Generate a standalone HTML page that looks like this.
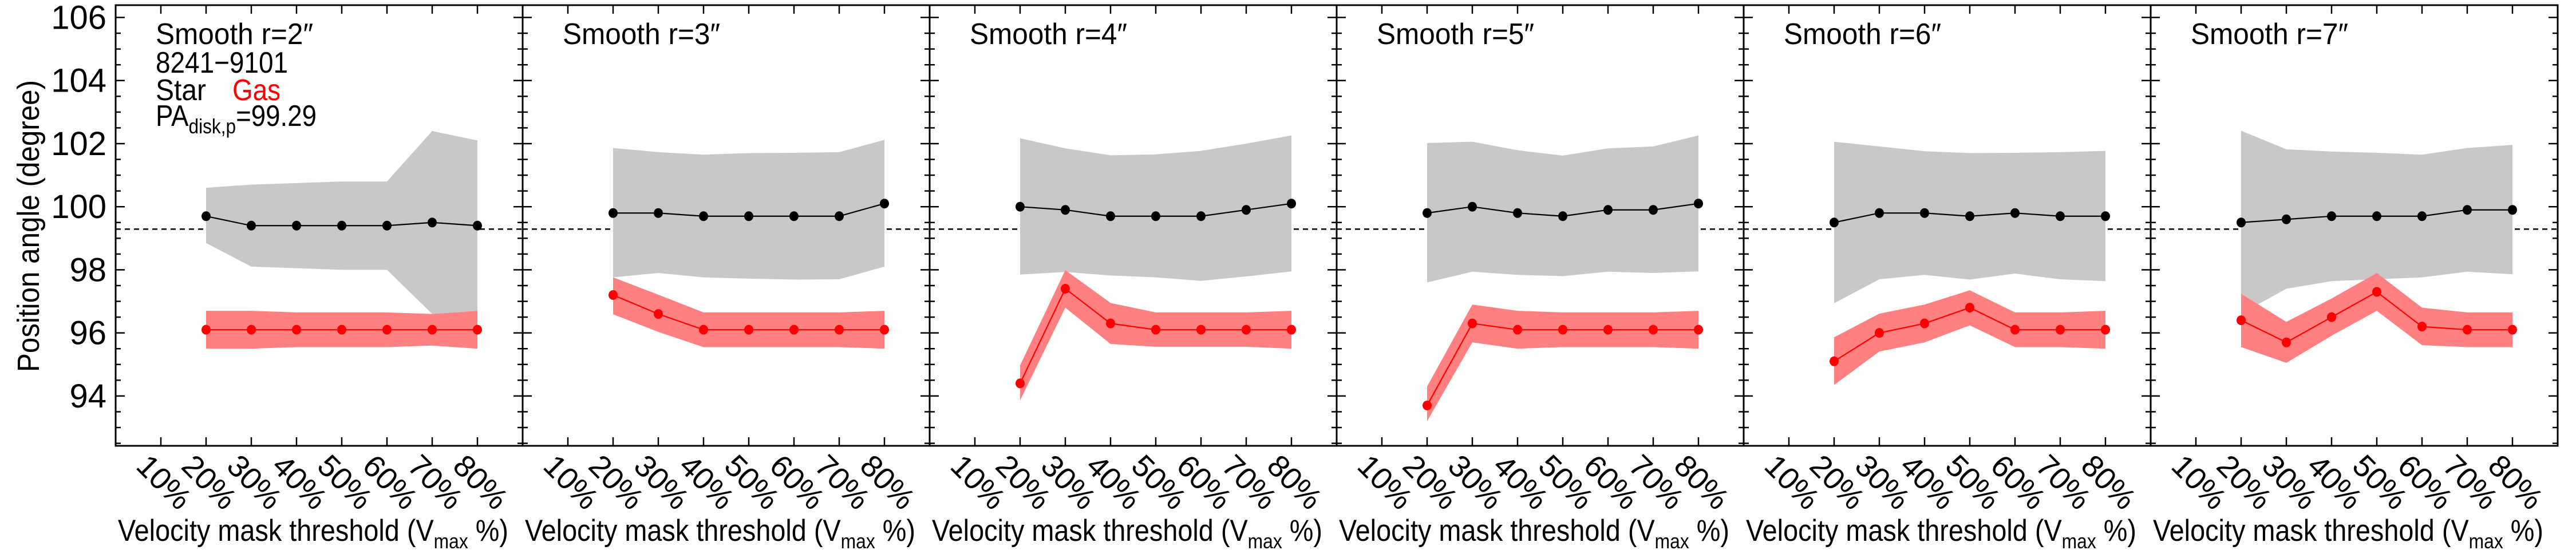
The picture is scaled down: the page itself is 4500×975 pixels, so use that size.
<!DOCTYPE html>
<html><head><meta charset="utf-8">
<style>
html,body{margin:0;padding:0;background:#fff;}
svg{display:block;font-family:"Liberation Sans",Arial,sans-serif;}
</style></head>
<body>
<svg id="chart" width="4500" height="975" viewBox="0 0 4500 975" xmlns="http://www.w3.org/2000/svg"></svg>
<script>
const categories = [20,30,40,50,60,70,80];
const xTickLabels = ["10%","20%","30%","40%","50%","60%","70%","80%"];
const xTickValues = [10,20,30,40,50,60,70,80];
const yTickLabels = ["94","96","98","100","102","104","106"];
const yTickValues = [94,96,98,100,102,104,106];
const panelTitles = ["Smooth r=2\u2033","Smooth r=3\u2033","Smooth r=4\u2033","Smooth r=5\u2033","Smooth r=6\u2033","Smooth r=7\u2033"];
const paDisk = 99.29;

const starR2 = [99.7,99.4,99.4,99.4,99.4,99.5,99.4];
const starHiR2 = [100.6,100.7,100.75,100.8,100.8,102.4,102.1];
const starLoR2 = [98.85,98.1,98.05,98.0,98.0,96.6,96.7];
const gasR2 = [96.1,96.1,96.1,96.1,96.1,96.1,96.1];
const gasHiR2 = [96.7,96.7,96.65,96.65,96.65,96.6,96.7];
const gasLoR2 = [95.5,95.5,95.55,95.55,95.55,95.6,95.5];

const starR3 = [99.8,99.8,99.7,99.7,99.7,99.7,100.1];
const starHiR3 = [101.86,101.73,101.65,101.7,101.71,101.73,102.12];
const starLoR3 = [97.76,97.9,97.76,97.72,97.69,97.7,98.1];
const gasR3 = [97.2,96.6,96.1,96.1,96.1,96.1,96.1];
const gasHiR3 = [97.76,97.21,96.65,96.65,96.65,96.65,96.7];
const gasLoR3 = [96.59,96.03,95.55,95.55,95.55,95.55,95.5];

const starR4 = [100.0,99.9,99.7,99.7,99.7,99.9,100.1];
const starHiR4 = [102.17,101.85,101.63,101.66,101.77,102.0,102.26];
const starLoR4 = [97.85,97.93,97.82,97.76,97.65,97.79,97.95];
const gasR4 = [94.4,97.4,96.3,96.1,96.1,96.1,96.1];
const gasHiR4 = [94.97,97.99,96.95,96.65,96.65,96.65,96.7];
const gasLoR4 = [93.86,96.8,95.65,95.56,95.56,95.56,95.5];

const starR5 = [99.8,100.0,99.8,99.7,99.9,99.9,100.1];
const starHiR5 = [102.02,102.06,101.79,101.62,101.85,101.91,102.26];
const starLoR5 = [97.6,97.94,97.84,97.8,97.94,97.9,97.95];
const gasR5 = [93.7,96.3,96.1,96.1,96.1,96.1,96.1];
const gasHiR5 = [94.3,96.9,96.7,96.65,96.65,96.65,96.7];
const gasLoR5 = [93.2,95.7,95.5,95.55,95.55,95.55,95.5];

const starR6 = [99.5,99.8,99.8,99.7,99.8,99.7,99.7];
const starHiR6 = [102.06,101.91,101.76,101.7,101.71,101.73,101.77];
const starLoR6 = [96.94,97.7,97.84,97.69,97.88,97.7,97.64];
const gasR6 = [95.1,96.0,96.3,96.8,96.1,96.1,96.1];
const gasHiR6 = [95.86,96.61,96.9,97.35,96.65,96.65,96.7];
const gasLoR6 = [94.35,95.41,95.7,96.24,95.55,95.55,95.5];

const starR7 = [99.5,99.6,99.7,99.7,99.7,99.9,99.9];
const starHiR7 = [102.41,101.82,101.75,101.71,101.65,101.86,101.96];
const starLoR7 = [96.61,97.4,97.64,97.7,97.76,97.94,97.86];
const gasR7 = [96.4,95.7,96.5,97.3,96.2,96.1,96.1];
const gasHiR7 = [97.24,96.35,97.09,97.9,96.8,96.65,96.65];
const gasLoR7 = [95.55,95.05,95.91,96.7,95.61,95.55,95.55];

const panels = [
 [starR2,starHiR2,starLoR2,gasR2,gasHiR2,gasLoR2],
 [starR3,starHiR3,starLoR3,gasR3,gasHiR3,gasLoR3],
 [starR4,starHiR4,starLoR4,gasR4,gasHiR4,gasLoR4],
 [starR5,starHiR5,starLoR5,gasR5,gasHiR5,gasLoR5],
 [starR6,starHiR6,starLoR6,gasR6,gasHiR6,gasLoR6],
 [starR7,starHiR7,starLoR7,gasR7,gasHiR7,gasLoR7]
];

const NS = "http://www.w3.org/2000/svg";
const svg = document.getElementById("chart");
const PW = 711, X0 = 202, TOP = 9, BOT = 779;
const YMIN = 92.42, YMAX = 106.39, XMIN = 0, XMAX = 90;
function yS(v){ return BOT - (v - YMIN) / (YMAX - YMIN) * (BOT - TOP); }
function xS(p, v){ return X0 + p*PW + (v - XMIN) / (XMAX - XMIN) * PW; }
function mk(tag, attrs, parent){
  const e = document.createElementNS(NS, tag);
  for (const k in attrs) e.setAttribute(k, attrs[k]);
  (parent || svg).appendChild(e);
  return e;
}

const yl = mk("text",{x:0,y:0,"font-size":54,"text-anchor":"middle",textLength:510,lengthAdjust:"spacingAndGlyphs",transform:"translate(68,395) rotate(-90)"});


yl.textContent = "Position angle (degree)";

yTickValues.forEach((v,i)=>{
  const t = mk("text",{x:186,y:yS(v)+20,"font-size":58,"text-anchor":"end"});
  
  
  t.textContent = yTickLabels[i];
});

panels.forEach((d,p)=>{
  const g = mk("g",{});
  
  
  const L = X0 + p*PW, R = L + PW;
  const [star, sHi, sLo, gas, gHi, gLo] = d;

  let pts = categories.map((c,i)=>xS(p,c)+","+yS(sHi[i]));
  pts = pts.concat(categories.map((c,i)=>xS(p,c)+","+yS(sLo[i])).reverse());
  const sb = mk("polygon",{points:pts.join(" "),fill:"#c8c8c8"},g);
  
  

  let gp = categories.map((c,i)=>xS(p,c)+","+yS(gHi[i]));
  gp = gp.concat(categories.map((c,i)=>xS(p,c)+","+yS(gLo[i])).reverse());
  const gb = mk("polygon",{points:gp.join(" "),fill:"#ff8080"},g);
  
  

  const dl1 = mk("line",{x1:L,x2:xS(p,categories[0]),y1:yS(paDisk),y2:yS(paDisk),stroke:"#000","stroke-width":2.5,"stroke-dasharray":"9,7"},g);
  
  
  const dl2 = mk("line",{x1:xS(p,categories[categories.length-1])+4,x2:R,y1:yS(paDisk),y2:yS(paDisk),stroke:"#000","stroke-width":2.5,"stroke-dasharray":"9,7"},g);
  
  

  const sl = mk("polyline",{points:categories.map((c,i)=>xS(p,c)+","+yS(star[i])).join(" "),fill:"none",stroke:"#000","stroke-width":2.2},g);
  
  
  categories.forEach((c,i)=>{
    const m = mk("ellipse",{cx:xS(p,c),cy:yS(star[i]),rx:8,ry:8.5,fill:"#000"},g);
    
    
  });
  const gl = mk("polyline",{points:categories.map((c,i)=>xS(p,c)+","+yS(gas[i])).join(" "),fill:"none",stroke:"#ff0000","stroke-width":2.2},g);
  
  
  categories.forEach((c,i)=>{
    const m = mk("ellipse",{cx:xS(p,c),cy:yS(gas[i]),rx:8,ry:8.5,fill:"#ff0000"},g);
    
    
  });

  const fr = mk("rect",{x:L,y:TOP,width:PW,height:BOT-TOP,fill:"none",stroke:"#000","stroke-width":3},g);
  
  

  for (let v = 92.5; v <= 106.01; v += 0.5) {
    const major = Math.abs(v/2 - Math.round(v/2)) < 1e-6;
    const len = major ? 16 : 9;
    const y = yS(v);
    const t1 = mk("line",{x1:L,x2:L+len,y1:y,y2:y,stroke:"#000","stroke-width":2.5},g);
    
    
    const t2 = mk("line",{x1:R,x2:R-len,y1:y,y2:y,stroke:"#000","stroke-width":2.5},g);
    
    
  }
  xTickValues.forEach((v,i)=>{
    const x = xS(p,v);
    const t1 = mk("line",{x1:x,x2:x,y1:BOT,y2:BOT-15,stroke:"#000","stroke-width":2.5},g);
    
    
    const t2 = mk("line",{x1:x,x2:x,y1:TOP,y2:TOP+15,stroke:"#000","stroke-width":2.5},g);
    
    
    const lb = mk("text",{x:0,y:0,"font-size":54,"text-anchor":"middle",transform:"translate("+(x+6)+",842) rotate(45) translate(0,19)"},g);
    
    
    lb.textContent = xTickLabels[i];
  });
  const xt = mk("text",{x:L+4,y:945,"font-size":53,textLength:682,lengthAdjust:"spacingAndGlyphs"},g);
  
  
  xt.innerHTML = 'Velocity mask threshold (V<tspan font-size="36" dy="13">max</tspan><tspan dy="-13"> %)</tspan>';
  const pt = mk("text",{x:L+70,y:77,"font-size":52,textLength:275,lengthAdjust:"spacingAndGlyphs"},g);
  
  
  pt.textContent = panelTitles[p];
});

const a1 = mk("text",{x:272,y:127,"font-size":52,textLength:231,lengthAdjust:"spacingAndGlyphs"});


a1.textContent = "8241\u22129101";
const a2 = mk("text",{x:272,y:175,"font-size":52,textLength:88,lengthAdjust:"spacingAndGlyphs"});


a2.textContent = "Star";
const a3 = mk("text",{x:406,y:175,"font-size":52,fill:"#ff0000",textLength:84,lengthAdjust:"spacingAndGlyphs"});


a3.textContent = "Gas";
const a4 = mk("text",{x:272,y:220,"font-size":52,textLength:281,lengthAdjust:"spacingAndGlyphs"});


a4.innerHTML = 'PA<tspan font-size="36" dy="13">disk,p</tspan><tspan dy="-13">=99.29</tspan>';
</script>
</body></html>
